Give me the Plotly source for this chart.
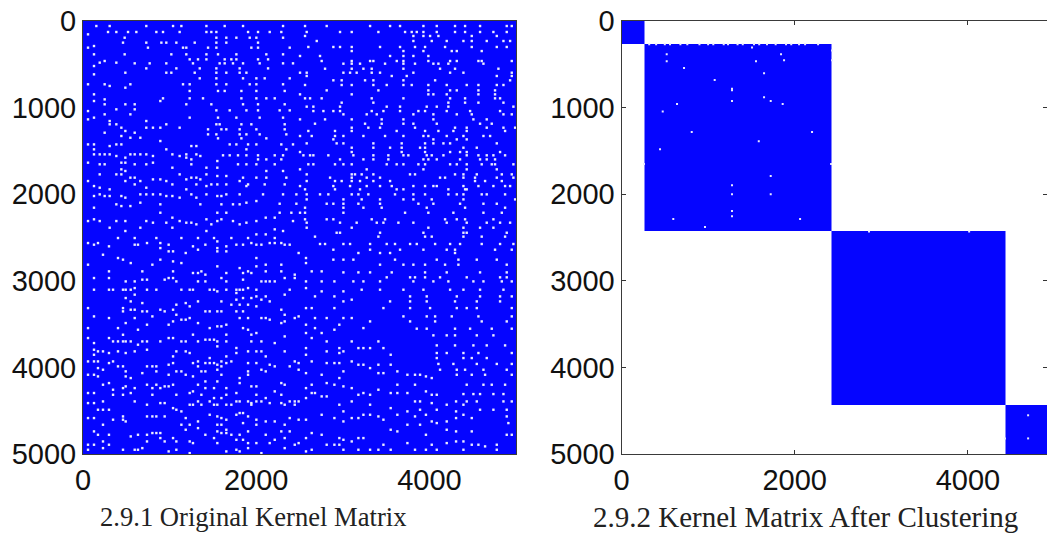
import plotly.graph_objects as go

x_ticks = [0, 2000, 4000]
y_ticks = [0, 1000, 2000, 3000, 4000, 5000]
matrix_size = 5000
cluster_edges = [0, 262, 2430, 4432, 5000]
captions = ["2.9.1 Original Kernel Matrix", "2.9.2 Kernel Matrix After Clustering"]

# Original matrix: unfilled entries, read row by row from the upper triangle (the matrix is symmetric)
row_y = [58,127,193,250,308,385,443,489,547,597,662,731,808,893,962,1032,1116,1193,1251,1309,1355,1425,1482,1551,1598,1655,1732,1809,1887,2002,2110,2214,2310]
row_x = [
[154,308,731,1040,1136,1425,1636,1848,2310],
[289,385,520,616,847,924,1116,1425,1482,1540,1906,2021,2156,2290],
[481,1540,1655,1771,1925,2002,2310],
[462,731,905,962,1078,1290,1540,1655,2021],
[750,1155,1193,1444,1540,1944,2021,2387],
[481,1020,1193,1425,1559,1771,2117,2310],
[1232,1328,1425,1636,1713,1771,2021,2137],
[597,770,962,1270,1578,1636,1732,1848,2040,2310,2425],
[731,1078,1348,1540,1809,2137],
[962,1020,1290,1540,1655,1809,1887],
[1348,1540,1848,2002,2098,2387],
[1155,1232,1540,1655,1925,2002,2310],
[1232,1559,1636,1829,2002,2329],
[924,1232,1386,1829,2002,2117,2214],
[1193,1482,1848,2021,2329],
[1540,1694,1887,2021,2271,2387],
[1232,1559,1771,2040,2310],
[1540,1578,1829,1944,2329],
[1444,1598,1655,1809,2002,2329],
[1444,1540,1809,1887,2040,2348],
[1559,1829,2117],
[1694,1771,1906,2002,2290,2425],
[1887,2348],
[1617,1694,1790,1887,2021,2214,2310],
[2021,2117,2290],
[1790,1887,2002,2214],
[2117,2310],
[1848,2002,2117,2348],
[1906,2098,2329],
[2079,2310,2464],
[2271,2464],
[2271,2406],
[2425],
]
row_y2 = [58,127,173,231,300,347,404,462,493,551,597,635,685,739,801,847,893,943,989,1040,1078,1136,1186,1232,1270,1328,1367,1413,1463,1513,1551,1598,1655,1713,1771,1809,1848,1906,1944,2002,2060,2110,2156,2214,2290,2329,2387,2445,2490]
row_x2 = [
[2564,2814,3315,3546,3661,3931,4085,4296,4412,4585,4893,4951],
[2583,2968,3103,3411,3719,3796,3854,3931,4085,4296,4412,4585,4739,4893],
[2564,3815,3931,4008,4104,4489,4778],
[2699,3815,4027,4200,4393,4489,4662,4855,4932],
[2602,2891,2968,3103,3430,3661,3834,3950,4181,4489,4778,4893],
[3103,3700,3931,4258,4316,4604],
[2506,2737,3546,3700,3815,3988],
[2756,3103,3315,3353,3623,3700,3988,4239,4316,4566,4604,4951],
[3007,3103,3199,3488,3700,3834,4046,4104,4219,4624],
[2795,3103,3238,3334,3700,4123,4296,4797],
[2506,2583,3007,3084,3160,3334,3430,3815,4239,4393,4951],
[2583,3565,3738,4778,4951],
[2891,2987,3257,3353,3700,4066,4932],
[2564,2987,3103,3353,3507,3700,3796,3988,4200,4431,4566,4778,4855],
[2814,3411,3988,4239,4316,4566,4758],
[2506,3103,3988,4046,4200,4566,4758],
[2564,2622,2756,3334,3700,4239,4412,4758,4816],
[2987,3353,4219,4412,4566,4855],
[2583,2660,2968,3507,3661,3969,4085,4219,4970],
[2660,2776,2891,2968,3334,3469,3661,3873,3950,4200,4470,4816],
[3007,3276,3392,3815,4046,4316,4489,4855,4951],
[2506,2795,3103,3449,3700,4046,4508,4662],
[2679,3257,3449,3700,3815,4085,4585,4720],
[3103,3295,3430,3834,4296,4431,4662,4855,4990],
[2602,2910,3103,3622,3950,4104,4277,4431,4874],
[2506,2641,2910,3007,3238,3488,3700,3931,3988,4200,4393,4624,4701],
[2891,4046,4316,4431],
[2583,2929,3007,3353,3680,3950,4046,4162,4239,4778],
[3103,3353,3546,3680,3892,3950,4393,4547],
[2506,3103,3680,3950,4239,4354,4431,4816],
[2545,2622,2660,2833,3122,3353,3526,3700,3757,3969,4027,4162,4431,4566,4662,4739,4874],
[2968,3238,3353,3526,3931,3988,4085,4354,4585,4662,4758],
[2602,2660,2910,3007,3103,3507,3622,3700,3873,3950,4239,4316,4431,4604,4720,4758,4970],
[2506,3276,3931,4431,4778],
[2583,3103,3141,3218,3353,3776,3834,4296,4393,4547,4836,4951],
[2853,3103,3276,3430,4123,4181,4393,4527,4778,4970],
[2583,2910,2987,3103,3199,3353,3546,4527,4643,4836],
[2506,2891,3084,3276,3430,3565,3815,3950,4046,4085,4393,4566,4739,4874,4932],
[2564,2910,3199,3622,3700,4219,4412,4431],
[2583,2737,2833,3103,3180,3295,3603,3815,3950,4219,4316,4393,4604,4662,4874],
[2583,3007,3218,3430,3700,3815,4027,4393,4990],
[2814,2891,3007,3180,3430,3873,4046,4354,4624,4778],
[2564,3007,3238,3449,3969,4412,4874],
[2506,2564,3007,3719,3988,4277,4624,4836],
[2564,2814,2891,3334,3488,4181,4316,4412,4739],
[2583,2968,3160,3392,3469,3642,3815,4200,4431,4662,4816,4932],
[2583,3103,3988,4393,4585,4739],
[2929,2968,3430,3931,4393,4431,4893],
[2679,3411,3950,4027,4393,4604,4874],
]
row_y3 = [2575,2641,2679,2756,2814,2903,2960,3007,3103,3180,3238,3315,3411,3469,3553,3630,3746,3834,3892,3960,4027,4085,4200,4308,4393,4489,4566,4643,4778]
row_x3 = [
[2737,2795,3007,3084,3315,3507,3603,3777,3854,4066,4239,4354,4604,4816,4970],
[2891,3315,3661,3931,4200,4296,4758,4951],
[3180,3430,3546,4296],
[2891,3007,3122,3603,4085,4335,4547,4778],
[3430,3700,3815,3950,4181,4335,4893],
[3007,3180,3315,3565,3950,4200,4585,4893],
[3507,3777,3834,3950,4123,4431,4816,4893],
[3122,3238,3430,3815,4046,4219,4508,4624,4836,4951],
[3218,3430,3700,3931,4239,4393,4585,4855],
[3777,3969,4316,4585,4816,4951],
[3546,3777,3969,4296,4547,4816],
[3469,3777,4008,4316,4431,4547,4951],
[3700,3969,4066,4258,4566,4951],
[3777,4066,4604,4893],
[3854,3969,4296,4470,4720,4951],
[4046,4200,4296,4547,4739],
[4085,4296,4508,4662,4874],
[4085,4200,4393,4566,4951],
[4085,4393,4489,4662],
[4104,4277,4547,4778,4951],
[4123,4316,4412,4624,4893],
[4316,4489,4643,4951],
[4431,4624,4720,4874],
[4393,4508,4585,4739,4855],
[4431,4547,4855,4951],
[4585,4739,4893],
[4893],
[4912],
[4893,4951],
]

# Clustered matrix: unfilled entries inside the blocks
holes_x = [522,522,722,1076,1276,1276,1276,1507,1553,1646,1646,1723,1861,1842,1877,641,476,811,1585,2200,445,260,2420,1723,1276,1276,1723,1276,1276,598,2062,964,2858,4014,4695,4695,4428,2431,2431]
holes_y = [385,465,543,681,781,800,923,307,465,604,881,923,958,385,454,958,1046,1282,1389,1282,1482,1651,1651,1790,1898,2002,2002,2194,2256,2287,2287,2379,2430,2430,4553,4820,4820,340,454]
# Notches along the top edge of the second block
notch_x = [320,400,500,560,680,760,900,1000,1060,1180,1230,1340,1400,1530,1590,1680,1780,1900,1960,2050,2120,2270]
notch_y = [268,268,268,268,268,268,268,268,268,268,268,268,268,268,268,268,268,268,268,268,268,268]

px, py = [], []
for ys, xs in ((row_y, row_x), (row_y2, row_x2), (row_y3, row_x3)):
    for y, row in zip(ys, xs):
        for x in row:
            px += [x, y]
            py += [y, x]

BLUE = "#0505ff"
ONE_BLUE = [[0, BLUE], [1, BLUE]]
n = len(cluster_edges) - 1
block_z = [[1 if i == j else None for j in range(n)] for i in range(n)]

fig = go.Figure()
fig.add_trace(go.Heatmap(x=[0, matrix_size], y=[0, matrix_size], z=[[1]], colorscale=ONE_BLUE,
                         showscale=False, hoverinfo="skip", xaxis="x", yaxis="y"))
fig.add_trace(go.Scatter(x=px, y=py, mode="markers", xaxis="x", yaxis="y", hoverinfo="skip",
                         marker=dict(symbol="square", size=2.4, color="#ececff", line=dict(width=0))))
fig.add_trace(go.Heatmap(x=cluster_edges, y=cluster_edges, z=block_z, colorscale=ONE_BLUE,
                         showscale=False, hoverinfo="skip", xaxis="x2", yaxis="y2"))
fig.add_trace(go.Scatter(x=holes_x + notch_x, y=holes_y + notch_y, mode="markers", xaxis="x2", yaxis="y2",
                         hoverinfo="skip", marker=dict(symbol="square", size=2, color="#e8e8ff", line=dict(width=0))))

W, H = 1047, 533
tick_font = dict(family="Liberation Sans, Arial, sans-serif", size=29, color="#111111")
common = dict(showgrid=False, zeroline=False, showline=True, linecolor="#3a3a3a", linewidth=1,
              mirror=True, tickfont=tick_font, layer="above traces", tickangle=0, automargin=False)
left_ticks = dict(ticks="")
right_ticks = dict(ticks="inside", ticklen=4, tickwidth=1, tickcolor="#333333", mirror="ticks")

fig.update_layout(
    width=W, height=H, margin=dict(l=0, r=0, t=0, b=0), showlegend=False,
    paper_bgcolor="white", plot_bgcolor="white",
    xaxis=dict(domain=[83/W, 516/W], range=[0, matrix_size], tickvals=x_ticks, anchor="y", **common, **left_ticks),
    yaxis=dict(domain=[1-454/H, 1-21/H], range=[matrix_size, 0], tickvals=y_ticks, anchor="x", **common, **left_ticks),
    xaxis2=dict(domain=[621.5/W, 1], range=[0, 4913], tickvals=x_ticks, anchor="y2", **{**common, **right_ticks}),
    yaxis2=dict(domain=[1-454/H, 1-21/H], range=[matrix_size, 0], tickvals=y_ticks, anchor="x2", **{**common, **right_ticks}),
    annotations=[
        dict(text=captions[0], xref="paper", yref="paper", x=253/W, y=1-517/H, showarrow=False,
             xanchor="center", yanchor="middle",
             font=dict(family="Liberation Serif, serif", size=26.6, color="#222222")),
        dict(text=captions[1], xref="paper", yref="paper", x=805/W, y=1-517/H, showarrow=False,
             xanchor="center", yanchor="middle",
             font=dict(family="Liberation Serif, serif", size=29, color="#222222")),
    ],
)
fig.write_html("out.html", config=dict(displayModeBar=False), post_script="document.body.style.margin='0';")
